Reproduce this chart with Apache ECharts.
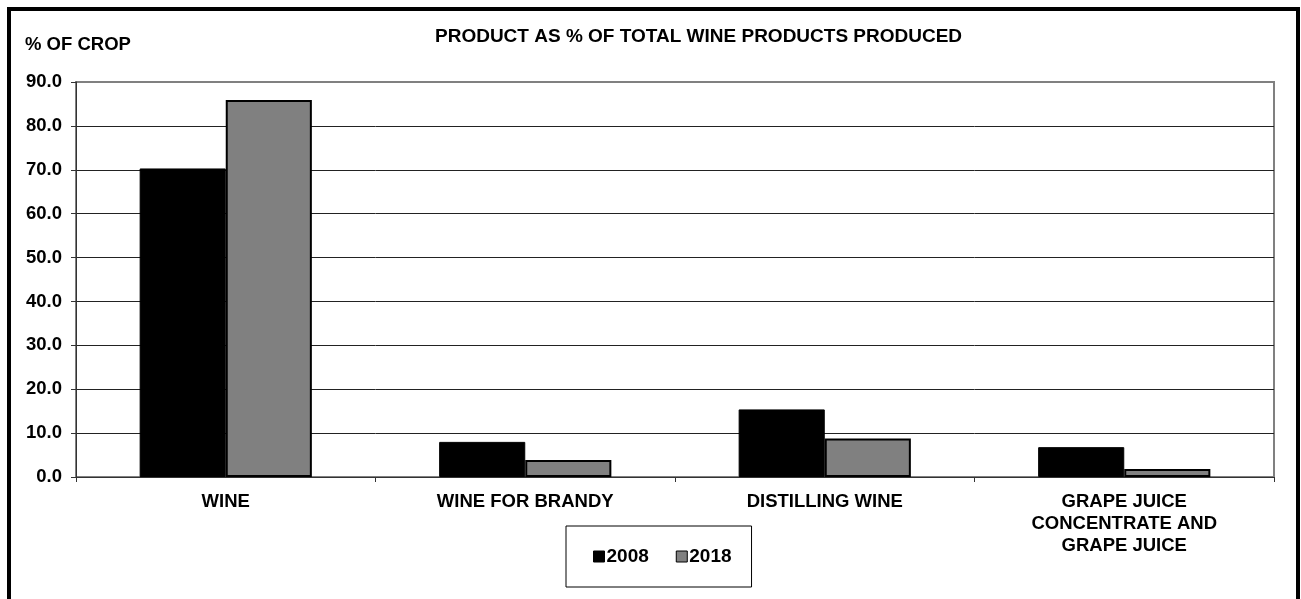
<!DOCTYPE html>
<html>
<head>
<meta charset="utf-8">
<script src="https://cdn.jsdelivr.net/npm/echarts@6/dist/echarts.min.js"></script>
<style>
html,body{margin:0;padding:0;background:#fff;}
#chart{width:1301px;height:599px;}
</style>
</head>
<body>
<div id="chart"></div>
<script>
const categories = ['WINE', 'WINE FOR BRANDY', 'DISTILLING WINE', 'GRAPE JUICE\nCONCENTRATE AND\nGRAPE JUICE'];
const series2008 = [70.3, 8.0, 15.4, 6.8];
const series2018 = [85.9, 3.9, 8.8, 1.8];
const seriesNames = ['2008', '2018'];
const chartTitle = 'PRODUCT AS % OF TOTAL WINE PRODUCTS PRODUCED';
const yTitle = '% OF CROP';

const FONT = '"Liberation Sans", Arial, sans-serif';
const chart = echarts.init(document.getElementById('chart'), null, {renderer: 'canvas'});
chart.setOption({
  backgroundColor: '#fff',
  animation: false,
  textStyle: {fontFamily: FONT},
  title: [
    {text: chartTitle, left: 430, top: 22,
     textStyle: {fontFamily: FONT, fontSize: 19, fontWeight: 'bold', color: '#000'}},
    {text: yTitle, left: 25, top: 35, padding: 0,
     textStyle: {fontFamily: FONT, fontSize: 18.5, fontWeight: 'bold', color: '#000'}}
  ],
  graphic: [{
    type: 'rect', shape: {x: 9, y: 9, width: 1289, height: 700},
    style: {fill: 'none', stroke: '#000', lineWidth: 4}, silent: true
  }],
  legend: {
    data: seriesNames,
    left: 566, top: 526,
    padding: [21, 20, 21, 27],
    itemWidth: 11, itemHeight: 11, itemGap: 27,
    icon: 'rect',
    borderColor: '#000', borderWidth: 1,
    textStyle: {fontFamily: FONT, fontSize: 19, fontWeight: 'bold', color: '#000', padding: [0, 0, 0, -3]},
    itemStyle: {borderColor: '#000', borderWidth: 1}
  },
  grid: {left: 76, right: 27, top: 82, bottom: 122, show: true,
         borderColor: '#808080', borderWidth: 2, backgroundColor: 'transparent'},
  xAxis: {
    type: 'category', data: categories,
    axisLine: {lineStyle: {color: '#333', width: 1}},
    axisTick: {show: true, alignWithLabel: false, length: 5, lineStyle: {color: '#333'}},
    axisLabel: {fontFamily: FONT, fontSize: 18.5, fontWeight: 'bold', color: '#000', margin: 14, lineHeight: 22, interval: 0}
  },
  yAxis: {
    type: 'value', min: 0, max: 90, interval: 10,
    axisLine: {show: true, lineStyle: {color: '#333', width: 1}},
    axisTick: {show: true, length: 5, lineStyle: {color: '#333'}},
    axisLabel: {fontFamily: FONT, fontSize: 18.5, fontWeight: 'bold', color: '#000', margin: 14,
                formatter: v => v.toFixed(1)},
    splitLine: {show: true, showMaxLine: false, lineStyle: {color: '#222', width: 1}}
  },
  series: [
    {name: seriesNames[0], type: 'bar', data: series2008, barGap: '0%', barCategoryGap: '42.5%',
     itemStyle: {color: '#000', borderColor: '#000', borderWidth: 1}},
    {name: seriesNames[1], type: 'bar', data: series2018, barGap: '0%', barCategoryGap: '42.5%',
     itemStyle: {color: '#808080', borderColor: '#000', borderWidth: 2}}
  ]
});
</script>
</body>
</html>
